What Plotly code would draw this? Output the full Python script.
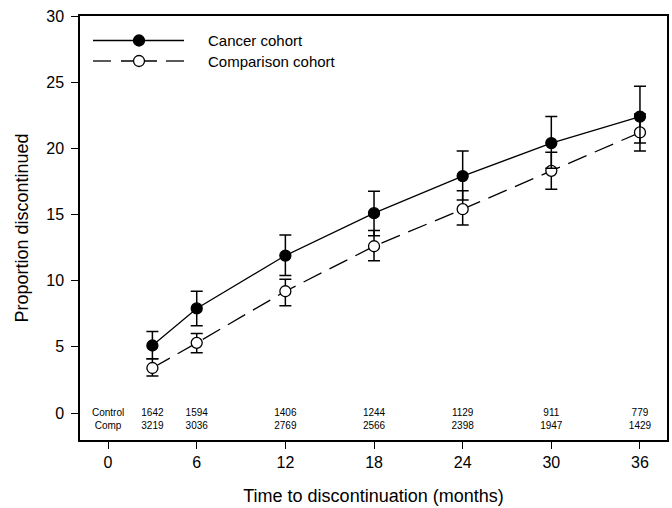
import plotly.graph_objects as go

# ---- data ----
months = [3, 6, 12, 18, 24, 30, 36]
cancer = [5.1, 7.9, 11.9, 15.1, 17.9, 20.4, 22.4]
cancer_hi = [6.15, 9.2, 13.45, 16.75, 19.8, 22.4, 24.7]
cancer_lo = [4.1, 6.6, 10.4, 13.4, 16.1, 18.5, 20.4]
comp = [3.4, 5.3, 9.2, 12.6, 15.4, 18.3, 21.2]
comp_hi = [4.1, 6.0, 10.1, 13.8, 16.8, 19.7, 22.6]
comp_lo = [2.8, 4.55, 8.1, 11.5, 14.2, 16.9, 19.8]

table_months = [3, 6, 12, 18, 24, 30, 36]
control_n = [1642, 1594, 1406, 1244, 1129, 911, 779]
comp_n = [3219, 3036, 2769, 2566, 2398, 1947, 1429]
row_labels = ["Control", "Comp"]
row_y = [0.0, -1.0]

x_ticks = [0, 6, 12, 18, 24, 30, 36]
y_ticks = [0, 5, 10, 15, 20, 25, 30]

FONT = "Liberation Sans, Arial, sans-serif"

fig = go.Figure()

fig.add_trace(go.Scatter(
    x=months, y=comp, mode="lines+markers", name="Comparison cohort",
    line=dict(color="black", width=1.3, dash="20px,9px"),
    marker=dict(symbol="circle", size=11, color="white",
                line=dict(color="black", width=1.3)),
    error_y=dict(type="data", symmetric=False,
                 array=[h - v for h, v in zip(comp_hi, comp)],
                 arrayminus=[v - l for v, l in zip(comp, comp_lo)],
                 color="black", thickness=1.5, width=6),
    showlegend=False,
))

fig.add_trace(go.Scatter(
    x=months, y=cancer, mode="lines+markers", name="Cancer cohort",
    line=dict(color="black", width=1.3),
    marker=dict(symbol="circle", size=11, color="black",
                line=dict(color="black", width=1.3)),
    error_y=dict(type="data", symmetric=False,
                 array=[h - v for h, v in zip(cancer_hi, cancer)],
                 arrayminus=[v - l for v, l in zip(cancer, cancer_lo)],
                 color="black", thickness=1.5, width=6),
    showlegend=False,
))

# number-at-risk table
fig.add_trace(go.Scatter(
    x=[0] + table_months, y=[row_y[0]] * (len(table_months) + 1),
    text=[row_labels[0]] + [str(v) for v in control_n],
    mode="text", textposition="middle center",
    textfont=dict(family=FONT, size=10, color="black"),
    showlegend=False, hoverinfo="skip", cliponaxis=False,
))
fig.add_trace(go.Scatter(
    x=[0] + table_months, y=[row_y[1]] * (len(table_months) + 1),
    text=[row_labels[1]] + [str(v) for v in comp_n],
    mode="text", textposition="middle center",
    textfont=dict(family=FONT, size=10, color="black"),
    showlegend=False, hoverinfo="skip", cliponaxis=False,
))

# ---- custom legend (paper coordinates) ----
L, B = 80, 68
W, H = 672.0 - L - 5, 508.0 - 16 - B
def px(xp):
    return (xp - L) / W
def py(yp):
    return (508 - B - yp) / H

shapes = []
ly1, ly2 = py(40.5), py(61)
shapes.append(dict(type="line", xref="paper", yref="paper",
                   x0=px(93), x1=px(184), y0=ly1, y1=ly1,
                   line=dict(color="black", width=1.3)))
for a, b in [(93, 111), (121, 157), (166, 184)]:
    shapes.append(dict(type="line", xref="paper", yref="paper",
                       x0=px(a), x1=px(b), y0=ly2, y1=ly2,
                       line=dict(color="black", width=1.3)))
for yy, fill in [(ly1, "black"), (ly2, "white")]:
    shapes.append(dict(type="circle", xref="paper", yref="paper",
                       xsizemode="pixel", ysizemode="pixel",
                       xanchor=px(139), yanchor=yy,
                       x0=-5.5, x1=5.5, y0=-5.5, y1=5.5,
                       fillcolor=fill, line=dict(color="black", width=1.3)))

annotations = [
    dict(text="Cancer cohort", xref="paper", yref="paper", x=px(206), y=ly1,
         xanchor="left", yanchor="middle", showarrow=False,
         font=dict(family=FONT, size=15, color="black")),
    dict(text="Comparison cohort", xref="paper", yref="paper", x=px(206), y=ly2,
         xanchor="left", yanchor="middle", showarrow=False,
         font=dict(family=FONT, size=15, color="black")),
]

fig.update_layout(
    width=672, height=508,
    margin=dict(l=L, r=5, t=16, b=B, autoexpand=False),
    paper_bgcolor="white", plot_bgcolor="white",
    font=dict(family=FONT, color="black"),
    shapes=shapes, annotations=annotations,
    xaxis=dict(range=[-1.9, 37.83], tickvals=x_ticks, ticktext=[str(v) for v in x_ticks],
               ticks="outside", ticklen=7, tickwidth=1.3, tickcolor="black",
               showline=True, linecolor="black", linewidth=1.5, mirror=True,
               showgrid=False, zeroline=False,
               tickfont=dict(family=FONT, size=16, color="black"),
               title=dict(text="Time to discontinuation (months)",
                          font=dict(family=FONT, size=18, color="black"), standoff=19)),
    yaxis=dict(range=[-2.04, 30], tickvals=y_ticks, ticktext=[str(v) for v in y_ticks],
               ticks="outside", ticklen=7, tickwidth=1.3, tickcolor="black",
               ticklabelstandoff=4,
               showline=True, linecolor="black", linewidth=1.5, mirror=True,
               showgrid=False, zeroline=False,
               tickfont=dict(family=FONT, size=16, color="black"),
               title=dict(text="Proportion discontinued",
                          font=dict(family=FONT, size=18, color="black"), standoff=13)),
)

fig.write_html("out.html", config={"displayModeBar": False},
               post_script="document.body.style.margin='0';")
